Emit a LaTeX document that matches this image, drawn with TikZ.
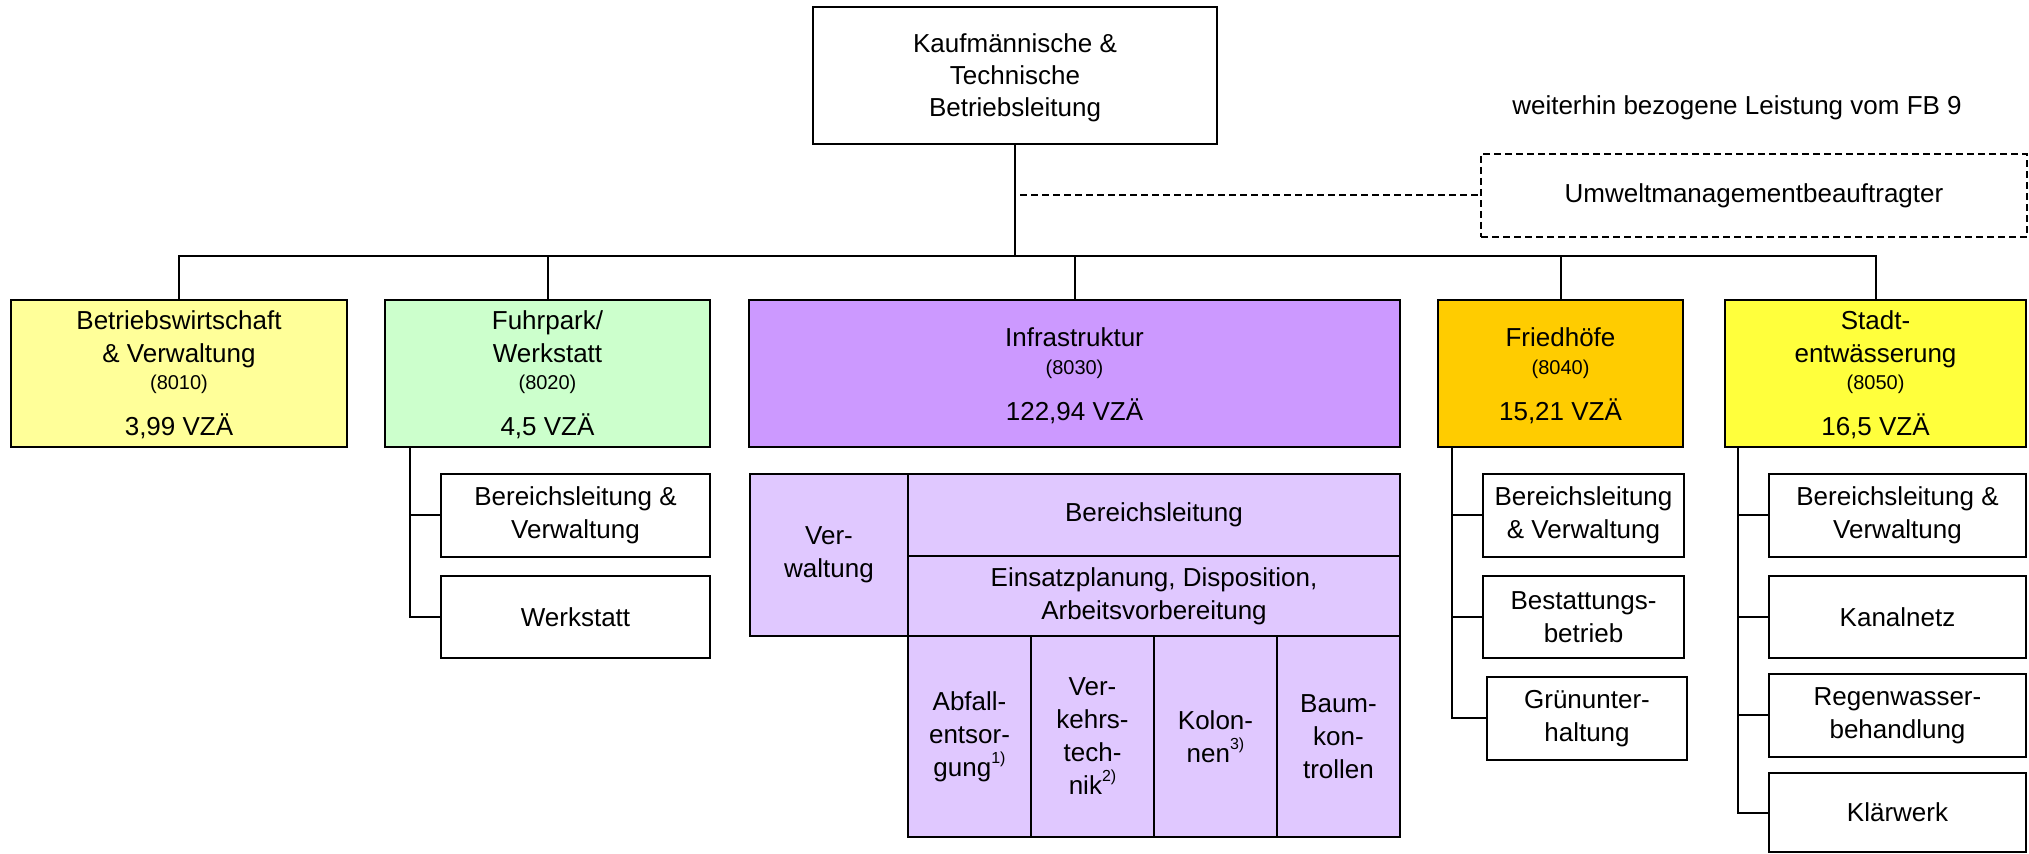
\documentclass[tikz,border=0pt]{standalone}
\usepackage{fontspec}
\setmainfont{Liberation Sans}
\usetikzlibrary{fit}
\definecolor{bwcol}{HTML}{FFFF99}
\definecolor{fpcol}{HTML}{CCFFCC}
\definecolor{infcol}{HTML}{CC99FF}
\definecolor{fhcol}{HTML}{FFCC00}
\definecolor{swcol}{HTML}{FFFF3C}
\definecolor{cellcol}{HTML}{E0C8FF}
\newcommand{\bigtxt}{\fontsize{13}{16.5}\selectfont}
\newcommand{\smalltxt}{\fontsize{10}{12}\selectfont}
\newcommand{\fnmark}[1]{\raisebox{0.5em}{\fontsize{8}{8}\selectfont #1)}}
\begin{document}
\begin{tikzpicture}[x=0.5pt,y=-0.5pt,
  box/.style={draw, line width=1pt, inner sep=0pt},
  txt/.style={inner sep=0pt, align=center, font=\bigtxt},
  conn/.style={line width=1pt},
  dashline/.style={line width=1pt, dash pattern=on 3.5pt off 2pt},
  lbl/.style={anchor=base, inner sep=0pt, font=\bigtxt},
  slbl/.style={anchor=base, inner sep=0pt, font=\smalltxt}]
\useasboundingbox (0,0) rectangle (2029,854);

% top
\node[box, fit={(813,7)(1217,144)}] (top) {};
\node[txt, font=\fontsize{13}{16}\selectfont] (topt) at ([yshift=-1pt]top.center) {Kaufmännische \&\\Technische\\Betriebsleitung};
\node[lbl] (fb9) at (1737,115) {weiterhin bezogene Leistung vom FB 9};
\node[box, dash pattern=on 3.5pt off 2pt, fit={(1481,154)(2027,237)}] (uma) {};
\node[txt] (umat) at (uma.center) {Umweltmanagementbeauftragter};

% departments
\node[box, fill=bwcol, fit={(11,300)(347,447)}] (bw) {};
\node[box, fill=fpcol, fit={(385,300)(710,447)}] (fp) {};
\node[box, fill=infcol, fit={(749,300)(1400,447)}] (inf) {};
\node[box, fill=fhcol, fit={(1438,300)(1683,447)}] (fh) {};
\node[box, fill=swcol, fit={(1725,300)(2026,447)}] (sw) {};

\node[lbl] (bwa) at (179,330) {Betriebswirtschaft};
\node[lbl] (bwb) at (179,363) {\& Verwaltung};
\node[slbl] (bwc) at (179,390) {(8010)};
\node[lbl] (bwd) at (179,436) {3,99 VZÄ};

\node[lbl] (fpa) at (547.5,330) {Fuhrpark/};
\node[lbl] (fpb) at (547.5,363) {Werkstatt};
\node[slbl] (fpc) at (547.5,390) {(8020)};
\node[lbl] (fpd) at (547.5,436) {4,5 VZÄ};

\node[lbl] (infa) at (1074.5,347) {Infrastruktur};
\node[slbl] (infb) at (1074.5,375) {(8030)};
\node[lbl] (infc) at (1074.5,421) {122,94 VZÄ};

\node[lbl] (fha) at (1560.5,347) {Friedhöfe};
\node[slbl] (fhb) at (1560.5,375) {(8040)};
\node[lbl] (fhc) at (1560.5,421) {15,21 VZÄ};

\node[lbl] (swa) at (1875.5,330) {Stadt-};
\node[lbl] (swb) at (1875.5,363) {entwässerung};
\node[slbl] (swc) at (1875.5,390) {(8050)};
\node[lbl] (swd) at (1875.5,436) {16,5 VZÄ};

% connectors top level
\coordinate (bus) at (0,256);
\draw[conn] (bw.north) -- (bw.north |- bus) -- (sw.north |- bus) -- (sw.north);
\draw[conn] (top.south) -- (top.south |- bus);
\draw[conn] (fp.north) -- (fp.north |- bus);
\draw[conn] (inf.north) -- (inf.north |- bus);
\draw[conn] (fh.north) -- (fh.north |- bus);
\draw[dashline] ([xshift=2.5pt]top.south |- uma.west) -- (uma.west);

% Fuhrpark sub units
\node[box, fit={(441,474)(710,557)}] (fp1) {};
\node[txt] (fp1t) at (fp1.center) {Bereichsleitung \&\\Verwaltung};
\node[box, fit={(441,576)(710,658)}] (fp2) {};
\node[txt] (fp2t) at (fp2.center) {Werkstatt};
\coordinate (fpr) at ([xshift=13pt]fp.south west);
\draw[conn] (fpr) |- (fp1.west);
\draw[conn] (fpr) |- (fp2.west);

% Friedhoefe sub units
\node[box, fit={(1483,474)(1684,557)}] (fh1) {};
\node[txt] (fh1t) at (fh1.center) {Bereichsleitung\\\& Verwaltung};
\node[box, fit={(1483,576)(1684,658)}] (fh2) {};
\node[txt] (fh2t) at (fh2.center) {Bestattungs-\\betrieb};
\node[box, fit={(1487,677)(1687,760)}] (fh3) {};
\node[txt] (fh3t) at (fh3.center) {Grünunter-\\haltung};
\coordinate (fhr) at ([xshift=7.5pt]fh.south west);
\draw[conn] (fhr) |- (fh1.west);
\draw[conn] (fhr) |- (fh2.west);
\draw[conn] (fhr) |- (fh3.west);

% Stadtentwaesserung sub units
\node[box, fit={(1769,474)(2026,557)}] (sw1) {};
\node[txt] (sw1t) at (sw1.center) {Bereichsleitung \&\\Verwaltung};
\node[box, fit={(1769,576)(2026,658)}] (sw2) {};
\node[txt] (sw2t) at (sw2.center) {Kanalnetz};
\node[box, fit={(1769,674)(2026,757)}] (sw3) {};
\node[txt] (sw3t) at (sw3.center) {Regenwasser-\\behandlung};
\node[box, fit={(1769,773)(2026,852)}] (sw4) {};
\node[txt] (sw4t) at (sw4.center) {Klärwerk};
\coordinate (swr) at ([xshift=7pt]sw.south west);
\draw[conn] (swr) |- (sw1.west);
\draw[conn] (swr) |- (sw2.west);
\draw[conn] (swr) |- (sw3.west);
\draw[conn] (swr) |- (sw4.west);

% Infrastruktur grid
\node[box, fill=cellcol, fit={(750,474)(908,636)}] (c0) {};
\node[txt] (c0t) at (c0.center) {Ver-\\waltung};
\node[box, fill=cellcol, fit={(908,474)(1400,556)}] (c1) {};
\node[txt] (c1t) at (c1.center) {Bereichsleitung};
\node[box, fill=cellcol, fit={(908,556)(1400,636)}] (c2) {};
\node[txt] (c2t) at (c2.center) {Einsatzplanung, Disposition,\\Arbeitsvorbereitung};
\node[box, fill=cellcol, fit={(908,636)(1031,837)}] (c3) {};
\node[txt] (c3t) at (c3.center) {Abfall-\\entsor-\\gung\fnmark{1}};
\node[box, fill=cellcol, fit={(1031,636)(1154,837)}] (c4) {};
\node[txt] (c4t) at (c4.center) {Ver-\\kehrs-\\tech-\\nik\fnmark{2}};
\node[box, fill=cellcol, fit={(1154,636)(1277,837)}] (c5) {};
\node[txt] (c5t) at (c5.center) {Kolon-\\nen\fnmark{3}};
\node[box, fill=cellcol, fit={(1277,636)(1400,837)}] (c6) {};
\node[txt] (c6t) at (c6.center) {Baum-\\kon-\\trollen};
\end{tikzpicture}
\end{document}
